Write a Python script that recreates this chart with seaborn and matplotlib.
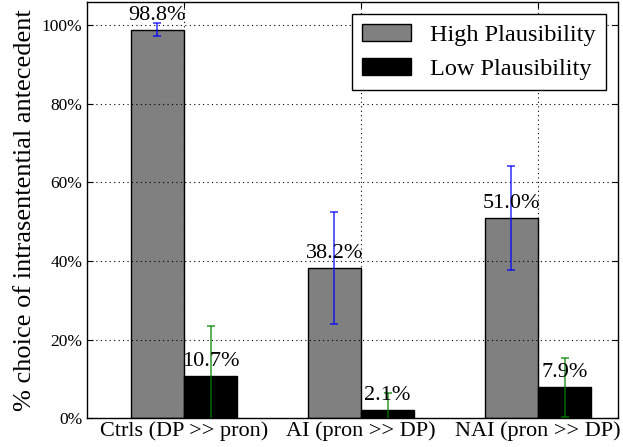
import numpy as np
import pandas as pd
import seaborn as sns
import matplotlib.pyplot as plt
from matplotlib.ticker import PercentFormatter

# values (percent)
conditions = ["Ctrls (DP >> pron)", "AI (pron >> DP)", "NAI (pron >> DP)"]
plausibility = ["High Plausibility", "Low Plausibility"]
high = [98.8, 38.2, 51.0]
low = [10.7, 2.1, 7.9]
high_err = [1.7, 14.2, 13.2]
low_err = [12.8, 4.5, 7.6]

df = pd.DataFrame({
    "condition": conditions * 2,
    "plaus": [plausibility[0]] * 3 + [plausibility[1]] * 3,
    "pct": high + low,
})

plt.rcParams["font.family"] = ["Liberation Serif", "DejaVu Serif"]

fig, ax = plt.subplots(figsize=(6.23, 4.47), dpi=100)
fig.subplots_adjust(left=0.139, right=0.9915, bottom=0.0638, top=0.995)

sns.barplot(data=df, x="condition", y="pct", hue="plaus", hue_order=plausibility,
            palette=["#808080", "black"], saturation=1, width=0.6,
            edgecolor="black", linewidth=1, errorbar=None, legend=False, ax=ax)

# error bars and value labels on top of the bars
err_colors = ["blue", "green"]
for cont, vals, errs, col in zip(ax.containers, [high, low], [high_err, low_err], err_colors):
    xs = [p.get_x() + p.get_width() / 2 for p in cont]
    ax.errorbar(xs, vals, yerr=errs, fmt="none", ecolor=col, elinewidth=1.2,
                capsize=3, capthick=1.2, alpha=0.75, zorder=4)
    for x, v in zip(xs, vals):
        ax.text(x, v + 2.6, f"{v:.1f}%", ha="center", va="baseline", fontsize=16, zorder=5)

ax.set_xlim(-0.55, 2.45)
ax.set_ylim(0, 105.8)
ax.set_yticks([0, 20, 40, 60, 80, 100])
ax.yaxis.set_major_formatter(PercentFormatter(xmax=100, decimals=0))
ax.set_xlabel("")
ax.set_ylabel("% choice of intrasentential antecedent", fontsize=19)

ax.set_axisbelow(False)
ax.grid(True, linestyle=(0, (1, 3)), color="black", linewidth=0.8)
ax.tick_params(axis="both", direction="in", length=4, top=True, right=True)
ax.tick_params(axis="y", labelsize=12.5, pad=3)
ax.tick_params(axis="x", labelsize=16, pad=2)
for s in ax.spines.values():
    s.set_color("black")
    s.set_linewidth(1)

ax.legend(ax.containers[:2], plausibility, loc="upper right", fontsize=17.5,
          fancybox=False, framealpha=1, edgecolor="black")

fig.savefig("out.png", dpi=100)
